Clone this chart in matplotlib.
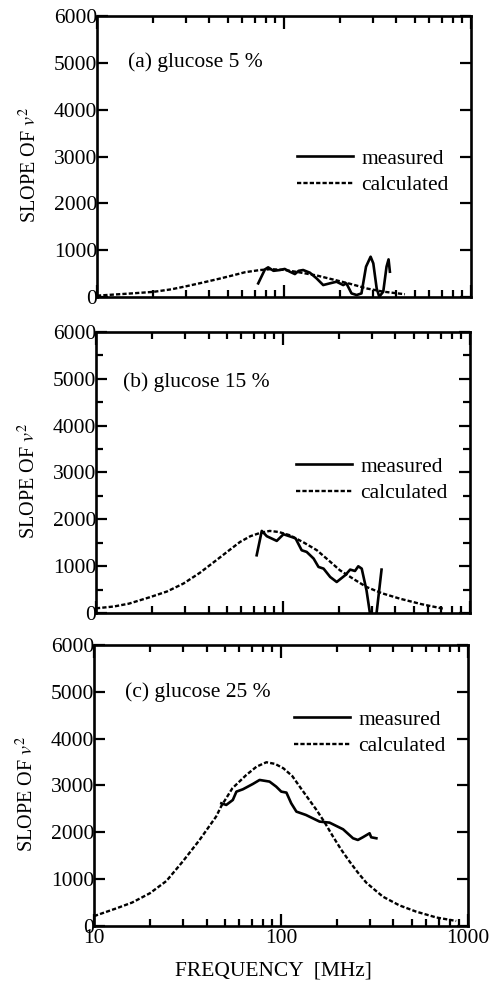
import numpy as np
import matplotlib
matplotlib.use("Agg")
import matplotlib.pyplot as plt
from matplotlib.ticker import MultipleLocator, LogLocator, NullFormatter

plt.rcParams['font.family'] = ['Liberation Serif', 'DejaVu Serif']
plt.rcParams['mathtext.fontset'] = 'stix'

# ---- data (frequency in MHz, slope of v^2) ----
# (a) glucose 5 %
calc_a_f = [10, 12, 15, 20, 25, 30, 36, 45, 53, 62, 74, 85, 100, 120, 150, 185, 225, 280, 340, 444]
calc_a_v = [30, 50, 75, 110, 165, 230, 300, 390, 460, 530, 575, 595, 580, 530, 460, 370, 285, 180, 115, 60]
meas_a_f = [72.9, 79.2, 82.4, 88, 95.3, 101, 107.6, 114.5, 120, 126.8, 137.7, 149.5, 162.3, 176,
            191.3, 207.6, 216, 230, 245, 260, 275, 291, 300.8, 313.5, 323.7, 340, 354, 363, 369]
meas_a_v = [292, 591, 634, 560, 577, 600, 541, 491, 560, 577, 520, 399, 256, 292,
            327, 256, 292, 78, 43, 78, 648, 861, 719, 185, 7, 114, 648, 804, 541]

# (b) glucose 15 %
calc_b_f = [10, 12.5, 15, 19.5, 24, 29.4, 36, 44, 52, 59, 67, 75.5, 85, 95, 109, 130, 152, 175,
            202, 240, 280, 340, 423, 550, 720]
calc_b_v = [100, 140, 200, 340, 460, 630, 860, 1126, 1350, 1518, 1640, 1710, 1753, 1730, 1660,
            1500, 1340, 1130, 912, 720, 556, 420, 306, 190, 93]
meas_b_f = [72.4, 77.1, 82, 92.7, 100.7, 114, 117, 126, 134, 146, 155, 165, 179, 194, 215, 229,
            243, 253, 264, 280, 292, 305, 317, 337]
meas_b_v = [1233, 1753, 1640, 1540, 1682, 1610, 1590, 1340, 1305, 1162, 984, 948, 770, 663, 805,
            927, 898, 998, 948, 485, 0, -400, 0, 927]

# (c) glucose 25 %
calc_c_f = [10, 13.2, 16, 19.9, 24.4, 29.9, 36.7, 45, 48, 55, 65.3, 74, 83.6, 93, 103, 115, 126,
            140, 155, 172, 190, 210, 233, 258, 286, 320, 351, 430, 529, 680, 866]
calc_c_v = [210, 377, 500, 698, 960, 1380, 1836, 2335, 2560, 2940, 3224, 3400, 3495, 3460,
            3367, 3200, 2975, 2720, 2477, 2200, 1907, 1630, 1374, 1140, 925, 760, 626, 440, 306,
            180, 107]
meas_c_f = [48, 51, 55.3, 57.8, 62.6, 70.8, 76.9, 86.9, 94.3, 100.4, 107, 113.5, 121, 136, 161,
            182, 215, 243, 258, 274, 298, 304, 324]
meas_c_v = [2619, 2584, 2690, 2868, 2918, 3032, 3117, 3082, 2975, 2868, 2847, 2619, 2441, 2370,
            2228, 2206, 2064, 1872, 1836, 1893, 1979, 1893, 1872]

y_ticks = [0, 1000, 2000, 3000, 4000, 5000, 6000]
x_ticks = [10, 100, 1000]

panels = [
    ("(a) glucose 5 %", calc_a_f, calc_a_v, meas_a_f, meas_a_v),
    ("(b) glucose 15 %", calc_b_f, calc_b_v, meas_b_f, meas_b_v),
    ("(c) glucose 25 %", calc_c_f, calc_c_v, meas_c_f, meas_c_v),
]

# axes rectangles (fig fraction)
rects = [
    [0.197, 0.6972, 0.760, 0.2865],
    [0.195, 0.3751, 0.760, 0.2865],
    [0.191, 0.0561, 0.760, 0.2865],
]
title_pos = [(0.083, 0.836), (0.072, 0.822), (0.083, 0.833)]
legend_top = [0.528, 0.556, 0.770]

fig = plt.figure(figsize=(4.92, 9.81), dpi=100)

for i, (title, cf, cv, mf, mv) in enumerate(panels):
    ax = fig.add_axes(rects[i])
    ax.plot(mf, mv, color='black', lw=1.9, label='measured')
    ax.plot(cf, cv, color='black', lw=1.7, linestyle=(0, (1.8, 0.9)), label='calculated')

    ax.set_xscale('log')
    ax.set_xlim(10, 1000)
    ax.set_ylim(0, 6000)
    ax.set_yticks(y_ticks)
    ax.set_yticklabels([str(t) for t in y_ticks], fontfamily='Liberation Serif')
    if i == 1:
        ax.yaxis.set_minor_locator(MultipleLocator(500))
    ax.xaxis.set_major_locator(LogLocator(base=10))
    ax.xaxis.set_minor_locator(LogLocator(base=10, subs=np.arange(2, 10)))
    ax.xaxis.set_minor_formatter(NullFormatter())

    for s in ax.spines.values():
        s.set_linewidth(1.9)

    ax.tick_params(axis='both', which='both', direction='in', top=True, right=True,
                   width=1.6, labelsize=15.5, colors='black')
    ax.tick_params(axis='y', which='major', length=8, pad=0)
    ax.tick_params(axis='y', which='minor', length=5)
    ax.tick_params(axis='x', which='major', length=9, pad=2)
    ax.tick_params(axis='x', which='minor', length=5)

    if i < 2:
        ax.tick_params(axis='x', labelbottom=False)
    else:
        ax.set_xticks(x_ticks)
        ax.set_xticklabels([str(t) for t in x_ticks], fontfamily='Liberation Serif')
        ax.set_xlabel('FREQUENCY  [MHz]', fontsize=15.5)
        ax.xaxis.set_label_coords(0.48, -0.125)

    ax.set_ylabel('SLOPE OF $v^{2}$', fontsize=14.5)
    ax.yaxis.set_label_coords(-0.15, 0.47)

    ax.text(title_pos[i][0], title_pos[i][1], title, transform=ax.transAxes,
            fontsize=15.5, va='center', ha='left')

    ax.legend(loc='upper left', bbox_to_anchor=(0.535, legend_top[i]), frameon=False,
              fontsize=15.5, handlelength=2.6, handletextpad=0.4, labelspacing=0.3,
              borderpad=0, borderaxespad=0)

plt.savefig('out.png', dpi=100)
